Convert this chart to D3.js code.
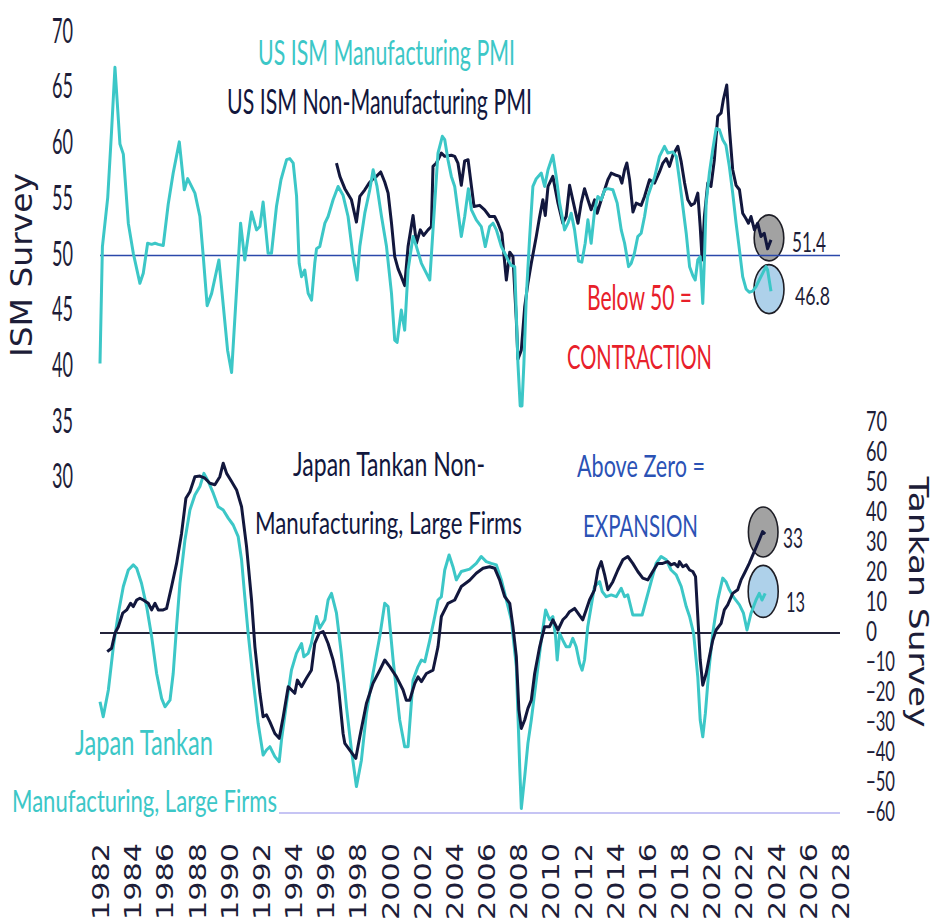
<!DOCTYPE html>
<html><head><meta charset="utf-8">
<script src="https://cdn.jsdelivr.net/npm/d3@7/dist/d3.min.js"></script>
<style>html,body{margin:0;padding:0;background:#fff;}svg{display:block;}</style>
</head><body>
<svg id="c" width="935" height="922"></svg>
<script>
// ---------- DATA (decimal year, value) ----------
const ismMfg = [[1982.0,40.3],[1982.15,50.8],[1982.48,55.2],[1982.72,61.2],[1982.93,66.9],[1983.24,60.0],[1983.45,59.1],[1983.76,52.9],[1984.07,50.2],[1984.48,47.5],[1984.69,48.4],[1984.96,51.1],[1985.21,51.0],[1985.42,51.1],[1985.62,51.0],[1985.93,50.9],[1986.24,54.6],[1986.55,57.4],[1986.93,60.2],[1987.24,55.9],[1987.45,56.9],[1987.9,55.6],[1988.21,53.5],[1988.42,49.9],[1988.66,45.5],[1988.94,46.6],[1989.39,49.6],[1989.93,41.5],[1990.18,39.5],[1990.74,52.9],[1991.0,49.6],[1991.42,53.9],[1991.73,52.3],[1991.94,52.6],[1992.14,54.8],[1992.45,50.2],[1992.66,50.2],[1992.97,54.4],[1993.25,56.8],[1993.6,58.6],[1993.8,58.7],[1994.01,58.3],[1994.22,55.3],[1994.38,49.3],[1994.53,48.1],[1994.73,48.7],[1994.94,46.6],[1995.15,46.0],[1995.35,49.3],[1995.46,50.6],[1995.66,50.8],[1995.98,52.9],[1996.18,53.5],[1996.49,55.0],[1996.8,56.2],[1997.11,55.4],[1997.42,53.5],[1997.73,49.9],[1997.98,47.8],[1998.15,50.8],[1998.46,53.8],[1998.77,55.9],[1998.98,57.7],[1999.22,56.2],[1999.5,53.5],[1999.81,50.8],[2000.12,46.6],[2000.32,42.4],[2000.47,42.2],[2000.73,45.1],[2000.94,43.3],[2001.15,48.7],[2001.46,51.7],[2001.67,50.8],[2001.98,49.3],[2002.5,47.8],[2002.7,52.3],[2003.01,59.2],[2003.28,60.7],[2003.43,60.4],[2003.63,58.6],[2003.84,57.1],[2004.05,56.2],[2004.46,51.7],[2004.67,53.5],[2004.9,56.0],[2005.09,54.1],[2005.39,53.2],[2005.7,52.6],[2005.95,50.8],[2006.22,52.6],[2006.43,52.9],[2006.64,52.3],[2006.95,50.8],[2007.16,50.2],[2007.36,49.6],[2007.57,49.1],[2007.78,49.0],[2007.98,40.3],[2008.12,36.5],[2008.23,36.5],[2008.35,40.3],[2008.5,46.3],[2008.71,51.7],[2008.91,56.2],[2009.12,56.9],[2009.43,57.4],[2009.64,56.2],[2009.85,57.7],[2010.15,59.0],[2010.36,57.1],[2010.57,54.7],[2010.88,52.3],[2011.09,52.9],[2011.29,53.8],[2011.5,52.3],[2011.75,49.5],[2011.95,49.4],[2012.16,51.1],[2012.33,53.2],[2012.53,51.1],[2012.75,54.1],[2012.95,55.3],[2013.16,55.0],[2013.37,55.9],[2013.57,56.0],[2013.88,55.9],[2014.15,54.7],[2014.4,52.3],[2014.61,51.1],[2014.86,49.0],[2015.02,49.3],[2015.22,50.2],[2015.43,51.7],[2015.64,52.0],[2015.85,53.5],[2016.05,55.3],[2016.26,56.2],[2016.47,57.0],[2016.78,58.9],[2017.09,59.8],[2017.3,59.2],[2017.61,59.3],[2017.82,58.9],[2018.02,56.8],[2018.23,54.4],[2018.44,52.0],[2018.65,49.0],[2018.85,48.2],[2019.0,47.8],[2019.16,49.6],[2019.31,49.9],[2019.47,45.7],[2019.57,49.6],[2019.68,54.7],[2019.88,57.4],[2020.09,59.5],[2020.3,61.4],[2020.5,61.3],[2020.71,60.4],[2020.91,59.9],[2021.12,58.0],[2021.33,55.6],[2021.54,52.9],[2021.75,50.5],[2021.95,48.1],[2022.16,47.0],[2022.36,46.7],[2022.57,46.8],[2022.78,47.2],[2022.98,47.8],[2023.19,48.4],[2023.4,49.0],[2023.5,48.7],[2023.71,46.8]];

const ismNonMfg = [[1996.7,58.3],[1996.91,57.1],[1997.22,56.0],[1997.63,55.0],[1997.94,53.0],[1998.15,55.3],[1998.46,55.9],[1998.73,56.5],[1998.98,56.9],[1999.18,57.1],[1999.45,57.5],[1999.7,56.6],[1999.91,55.6],[2000.12,52.9],[2000.32,49.9],[2000.53,48.8],[2000.73,48.1],[2000.94,47.3],[2001.15,50.8],[2001.46,53.6],[2001.67,51.1],[2001.91,52.3],[2002.12,51.8],[2002.39,52.3],[2002.6,52.6],[2002.7,58.0],[2002.91,58.3],[2003.22,59.2],[2003.43,58.9],[2003.84,59.0],[2004.05,58.9],[2004.25,58.3],[2004.46,56.3],[2004.67,58.5],[2004.88,58.6],[2005.09,56.2],[2005.25,54.4],[2005.6,54.5],[2005.91,54.1],[2006.22,53.5],[2006.53,53.5],[2006.74,52.9],[2006.98,52.0],[2007.16,49.3],[2007.26,47.8],[2007.47,50.3],[2007.67,49.9],[2007.88,44.2],[2007.98,40.7],[2008.19,41.5],[2008.4,45.4],[2008.6,47.5],[2008.81,49.3],[2009.12,51.7],[2009.33,53.5],[2009.53,55.0],[2009.68,53.6],[2009.85,56.2],[2010.15,57.1],[2010.47,54.7],[2010.77,52.9],[2010.98,53.5],[2011.19,56.3],[2011.39,55.0],[2011.71,52.9],[2011.91,54.7],[2012.12,56.0],[2012.33,55.0],[2012.53,54.1],[2012.75,55.0],[2012.91,53.8],[2013.16,55.0],[2013.37,55.9],[2013.57,56.8],[2013.78,57.4],[2014.09,57.2],[2014.3,57.1],[2014.44,56.5],[2014.61,57.7],[2014.75,58.3],[2014.92,56.8],[2015.13,53.9],[2015.33,54.7],[2015.64,54.5],[2015.85,55.3],[2016.16,56.8],[2016.47,56.5],[2016.78,57.5],[2016.99,58.3],[2017.2,58.7],[2017.4,58.0],[2017.61,59.0],[2017.92,59.8],[2018.13,58.4],[2018.34,56.5],[2018.54,55.0],[2018.75,54.5],[2018.96,54.7],[2019.16,55.6],[2019.31,52.6],[2019.43,49.6],[2019.57,53.5],[2019.78,56.5],[2019.98,56.2],[2020.19,58.6],[2020.4,62.5],[2020.61,62.8],[2020.75,64.0],[2020.96,65.3],[2021.13,61.3],[2021.33,57.7],[2021.54,56.3],[2021.75,55.9],[2021.95,53.8],[2022.16,53.3],[2022.31,52.9],[2022.47,53.5],[2022.68,52.3],[2022.88,52.9],[2023.09,51.7],[2023.29,52.0],[2023.5,50.6],[2023.71,51.4]];

const tankanNonMfg = [[1982.45,-6.2],[1982.72,-5.1],[1982.93,-0.1],[1983.14,2.1],[1983.41,6.6],[1983.66,7.7],[1983.9,9.9],[1984.07,8.8],[1984.28,11.0],[1984.48,11.6],[1984.69,11.0],[1985.0,9.9],[1985.21,7.7],[1985.42,9.9],[1985.62,7.7],[1985.93,7.7],[1986.14,8.2],[1986.45,15.5],[1986.76,23.2],[1987.07,33.2],[1987.34,44.9],[1987.59,47.1],[1987.9,52.1],[1988.21,52.3],[1988.52,51.6],[1988.83,49.9],[1989.14,49.4],[1989.45,52.1],[1989.66,56.6],[1989.87,53.2],[1990.18,50.5],[1990.49,47.7],[1990.8,42.1],[1991.11,28.8],[1991.42,11.0],[1991.63,-4.6],[1991.94,-20.1],[1992.14,-27.9],[1992.35,-27.3],[1992.56,-29.6],[1992.87,-33.5],[1993.14,-35.1],[1993.39,-27.9],[1993.7,-17.9],[1994.11,-20.1],[1994.27,-15.7],[1994.53,-17.9],[1994.83,-15.1],[1995.14,-12.4],[1995.35,-3.5],[1995.62,-0.1],[1995.87,0.5],[1996.18,-3.5],[1996.49,-9.0],[1996.8,-16.8],[1997.11,-33.5],[1997.22,-36.8],[1997.9,-41.8],[1998.15,-34.6],[1998.56,-23.5],[1998.97,-16.8],[1999.39,-12.4],[1999.7,-9.0],[2000.01,-11.2],[2000.43,-14.6],[2000.84,-19.0],[2001.04,-22.4],[2001.25,-22.4],[2001.57,-16.8],[2001.77,-14.6],[2001.98,-16.2],[2002.29,-13.5],[2002.7,-12.4],[2003.01,-4.6],[2003.22,5.5],[2003.63,9.9],[2004.05,11.0],[2004.46,15.5],[2004.98,17.6],[2005.39,19.9],[2005.81,21.6],[2006.22,22.1],[2006.53,21.6],[2006.84,17.7],[2007.16,12.1],[2007.47,9.9],[2007.67,2.1],[2007.88,-7.9],[2008.04,-25.7],[2008.19,-31.8],[2008.4,-29.0],[2008.6,-25.1],[2008.81,-22.4],[2009.02,-13.5],[2009.33,-4.6],[2009.64,2.1],[2009.95,2.1],[2010.15,4.4],[2010.47,1.0],[2010.77,4.4],[2010.98,5.5],[2011.19,7.1],[2011.5,8.2],[2011.71,6.6],[2012.01,4.4],[2012.22,7.7],[2012.43,11.0],[2012.74,14.4],[2012.95,21.0],[2013.16,23.8],[2013.37,19.4],[2013.57,14.4],[2013.88,17.1],[2014.19,21.0],[2014.5,24.4],[2014.81,25.5],[2015.12,23.2],[2015.43,20.5],[2015.74,18.3],[2016.05,17.7],[2016.36,20.5],[2016.67,23.2],[2016.98,23.2],[2017.29,23.8],[2017.5,22.7],[2017.71,23.2],[2017.92,22.1],[2018.02,23.8],[2018.23,22.1],[2018.44,22.7],[2018.65,21.0],[2018.85,20.5],[2019.02,18.8],[2019.16,5.5],[2019.31,-9.0],[2019.47,-17.4],[2019.68,-13.5],[2019.88,-7.9],[2020.09,-2.4],[2020.3,1.0],[2020.61,3.2],[2020.81,7.7],[2021.02,9.4],[2021.33,13.2],[2021.64,14.4],[2021.85,17.7],[2022.06,19.9],[2022.36,23.2],[2022.67,27.1],[2022.98,31.0],[2023.19,33.8],[2023.35,33.0]];

const tankanMfg = [[1982.0,-22.9],[1982.2,-27.9],[1982.52,-19.0],[1982.83,-4.6],[1983.14,6.6],[1983.45,15.5],[1983.76,21.0],[1984.07,22.7],[1984.28,21.6],[1984.58,16.6],[1984.9,8.8],[1985.21,-1.2],[1985.52,-13.5],[1985.83,-21.8],[1986.04,-24.6],[1986.35,-22.4],[1986.55,-13.5],[1986.76,2.1],[1986.97,16.6],[1987.28,31.0],[1987.59,41.0],[1987.9,46.0],[1988.21,48.8],[1988.46,53.2],[1988.73,50.5],[1989.04,46.6],[1989.35,42.1],[1989.66,41.0],[1989.97,38.3],[1990.28,36.0],[1990.59,32.1],[1990.8,24.4],[1991.0,12.1],[1991.21,-0.1],[1991.52,-15.7],[1991.83,-30.1],[1992.14,-40.7],[1992.35,-39.0],[1992.56,-37.9],[1992.87,-41.2],[1993.14,-42.9],[1993.28,-35.7],[1993.59,-23.5],[1993.9,-12.4],[1994.21,-6.8],[1994.53,-3.5],[1994.67,-7.9],[1994.94,-6.8],[1995.14,-3.5],[1995.46,5.5],[1995.66,1.6],[1995.98,4.4],[1996.18,11.0],[1996.39,13.2],[1996.7,6.6],[1997.0,-6.8],[1997.32,-24.6],[1997.63,-39.0],[1997.94,-51.2],[1998.25,-42.4],[1998.56,-26.8],[1998.97,-13.5],[1999.39,-1.2],[1999.7,9.9],[1999.91,8.8],[2000.22,-9.0],[2000.63,-29.0],[2000.94,-37.9],[2001.15,-37.9],[2001.46,-15.7],[2001.77,-11.2],[2001.98,-9.0],[2002.19,-9.6],[2002.5,-2.4],[2002.81,5.5],[2003.01,11.0],[2003.22,12.1],[2003.43,21.0],[2003.7,26.0],[2003.94,22.1],[2004.15,17.7],[2004.46,20.5],[2004.98,21.3],[2005.39,23.2],[2005.7,25.5],[2006.01,23.8],[2006.32,23.2],[2006.64,22.7],[2006.95,17.7],[2007.26,11.0],[2007.57,4.4],[2007.88,-11.2],[2008.09,-44.6],[2008.19,-58.5],[2008.4,-47.9],[2008.6,-36.8],[2008.81,-29.0],[2009.12,-15.7],[2009.43,-2.4],[2009.7,7.7],[2009.95,4.4],[2010.15,5.5],[2010.32,-1.2],[2010.42,-9.0],[2010.57,-0.1],[2010.77,-2.4],[2010.98,-4.6],[2011.19,-4.6],[2011.39,-1.8],[2011.6,-4.6],[2011.81,-10.1],[2011.97,-12.4],[2012.12,-9.0],[2012.32,2.1],[2012.53,8.8],[2012.74,15.5],[2013.06,17.1],[2013.22,13.8],[2013.47,12.1],[2013.78,12.7],[2014.09,12.1],[2014.4,14.9],[2014.61,12.1],[2014.81,12.7],[2015.12,6.0],[2015.43,6.0],[2015.7,6.0],[2015.95,11.0],[2016.26,17.1],[2016.57,23.2],[2016.88,25.5],[2017.2,24.4],[2017.5,21.0],[2017.82,19.4],[2018.13,15.5],[2018.44,8.8],[2018.65,5.5],[2018.9,-0.1],[2019.16,-14.6],[2019.31,-29.0],[2019.47,-34.6],[2019.63,-26.8],[2019.83,-13.5],[2020.09,-0.1],[2020.4,11.0],[2020.71,18.3],[2020.91,17.1],[2021.12,14.4],[2021.43,11.6],[2021.75,9.4],[2022.0,6.6],[2022.22,1.0],[2022.47,6.6],[2022.78,11.0],[2022.98,13.2],[2023.15,11.0],[2023.35,13.2]];

const yearTicks = d3.range(1982, 2029, 2);
const ismTicks = [30, 35, 40, 45, 50, 55, 60, 65, 70];
const tankanTicks = [70, 60, 50, 40, 30, 20, 10, 0, -10, -20, -30, -40, -50, -60];
const ismLastLabels = ["51.4", "46.8"];
const tankanLastLabels = ["33", "13"];

// ---------- STYLE ----------
const TEAL = "#3cc7c7", NAVY = "#12173d", TXT = "#1d1d38";
const SANS = "Lato, 'Open Sans', sans-serif", DV = "'DejaVu Sans', sans-serif";
const CAP_LATO = 0.72, CAP_DV = 0.73;

const svg = d3.select("#c");
const x = d3.scaleLinear().domain([1982, 2028]).range([100, 840]);
const yL = d3.scaleLinear().domain([0, 70]).range([812.5, 32.7]);
const yR = d3.scaleLinear().domain([-60, 70]).range([813, 423]);

// helper: horizontal text fitted into a box (left,right,capTop,baseline)
function boxText(g, str, left, right, top, base, color, fam, cap) {
  const fs = (base - top) / (cap || CAP_LATO);
  return g.append("text").text(str)
    .attr("x", left).attr("y", base)
    .attr("font-family", fam || SANS).attr("font-size", fs)
    .attr("fill", color)
    .attr("textLength", right - left).attr("lengthAdjust", "spacingAndGlyphs");
}

// ---------- end markers (ellipses) ----------
function marker(pt, ys, fill, rx, ry) {
  svg.append("ellipse").attr("cx", x(pt[0]) - 2).attr("cy", ys(pt[1]) - 2)
    .attr("rx", rx).attr("ry", ry).attr("fill", fill)
    .attr("stroke", "#1e1e26").attr("stroke-width", 1.6);
}
marker(ismNonMfg[ismNonMfg.length - 1], yL, "#a2a2a2", 14.8, 23);
marker(ismMfg[ismMfg.length - 1], yL, "#aed1ea", 15, 24.5);
marker(tankanNonMfg[tankanNonMfg.length - 1], yR, "#a2a2a2", 14.8, 25);
marker(tankanMfg[tankanMfg.length - 1], yR, "#aed1ea", 15, 26);

// ---------- reference lines ----------
svg.append("line").attr("x1", x(1982)).attr("x2", x(2028))
  .attr("y1", yL(50)).attr("y2", yL(50)).attr("stroke", "#2b48aa").attr("stroke-width", 1.5);
svg.append("line").attr("x1", x(1982)).attr("x2", x(2028))
  .attr("y1", yR(0)).attr("y2", yR(0)).attr("stroke", "#23233a").attr("stroke-width", 2);
svg.append("line").attr("x1", x(1982)).attr("x2", x(2028))
  .attr("y1", yR(-60)).attr("y2", yR(-60)).attr("stroke", "#b3b0f0").attr("stroke-width", 1.5);

// ---------- series ----------
const lineL = d3.line().x(d => x(d[0])).y(d => yL(d[1]));
const lineR = d3.line().x(d => x(d[0])).y(d => yR(d[1]));
function path(data, gen, color) {
  svg.append("path").datum(data).attr("d", gen).attr("fill", "none")
    .attr("stroke", color).attr("stroke-width", 3).attr("stroke-linejoin", "round");
}
path(tankanMfg, lineR, TEAL);
path(tankanNonMfg, lineR, NAVY);
path(ismNonMfg, lineL, NAVY);
path(ismMfg, lineL, TEAL);

// ---------- axes ----------
const axL = svg.append("g").call(d3.axisLeft(yL).tickValues(ismTicks).tickSize(0));
axL.select(".domain").remove();
axL.selectAll(".tick text").each(function () {
  const t = d3.select(this);
  t.attr("x", 73).attr("dy", null).attr("y", 9.5).attr("text-anchor", "end")
    .attr("font-family", SANS).attr("font-size", 25 / CAP_LATO).attr("fill", TXT)
    .attr("textLength", 21).attr("lengthAdjust", "spacingAndGlyphs");
});

const axR = svg.append("g").call(d3.axisRight(yR).tickValues(tankanTicks).tickSize(0));
axR.select(".domain").remove();
axR.selectAll(".tick text").each(function (d) {
  const t = d3.select(this);
  const s = String(d);
  t.attr("x", 866).attr("dy", null).attr("y", 7).attr("text-anchor", "start")
    .attr("font-family", SANS).attr("font-size", 20 / CAP_LATO).attr("fill", TXT)
    .attr("textLength", s.length === 1 ? 11 : s.length === 2 ? 21 : 29)
    .attr("lengthAdjust", "spacingAndGlyphs");
});

const axB = svg.append("g").call(d3.axisBottom(x).tickValues(yearTicks).tickFormat(d3.format("d")).tickSize(0));
axB.select(".domain").remove();
axB.selectAll(".tick text").each(function () {
  const t = d3.select(this);
  t.attr("x", 0).attr("y", 0).attr("dy", null)
    .attr("transform", "translate(8.5,843) rotate(-90)")
    .attr("text-anchor", "end")
    .attr("font-family", DV).attr("font-size", 16.8 / CAP_DV).attr("fill", TXT)
    .attr("textLength", 77).attr("lengthAdjust", "spacingAndGlyphs");
});

// axis titles
svg.append("text").text("ISM Survey")
  .attr("transform", "translate(32,265) rotate(-90)").attr("text-anchor", "middle")
  .attr("font-family", DV).attr("font-size", 22 / CAP_DV).attr("fill", TXT)
  .attr("textLength", 184).attr("lengthAdjust", "spacingAndGlyphs");
svg.append("text").text("Tankan Survey")
  .attr("transform", "translate(909,602) rotate(90)").attr("text-anchor", "middle")
  .attr("font-family", DV).attr("font-size", 20 / CAP_DV).attr("fill", TXT)
  .attr("textLength", 251).attr("lengthAdjust", "spacingAndGlyphs");

// ---------- annotations ----------
const ann = svg.append("g");
boxText(ann, "US ISM Manufacturing PMI", 258, 515, 40, 65, TEAL);
boxText(ann, "US ISM Non-Manufacturing PMI", 227, 532, 89, 114, NAVY);
boxText(ann, "Below 50 =", 587, 692, 285, 310, "#e8202a");
boxText(ann, "CONTRACTION", 567, 712, 345, 369, "#e8202a");
boxText(ann, ismLastLabels[0], 792, 826, 233, 252, TXT);
boxText(ann, ismLastLabels[1], 795, 830, 287, 305, TXT);

boxText(ann, "Japan Tankan Non-", 293, 485, 453, 476, NAVY);
boxText(ann, "Manufacturing, Large Firms", 255, 522, 512, 534, NAVY);
boxText(ann, "Above Zero =", 577, 705, 455, 477, "#2b52b5");
boxText(ann, "EXPANSION", 583, 698, 515, 537, "#2b52b5");
boxText(ann, tankanLastLabels[0], 783, 803, 528, 548, TXT);
boxText(ann, tankanLastLabels[1], 786, 805, 592, 612, TXT);

ann.append("rect").attr("x", 8).attr("y", 784).attr("width", 271).attr("height", 36).attr("fill", "#fff");
boxText(ann, "Japan Tankan", 75, 213, 730, 755, TEAL);
boxText(ann, "Manufacturing, Large Firms", 12, 277, 790, 812, TEAL);
</script>
</body></html>
